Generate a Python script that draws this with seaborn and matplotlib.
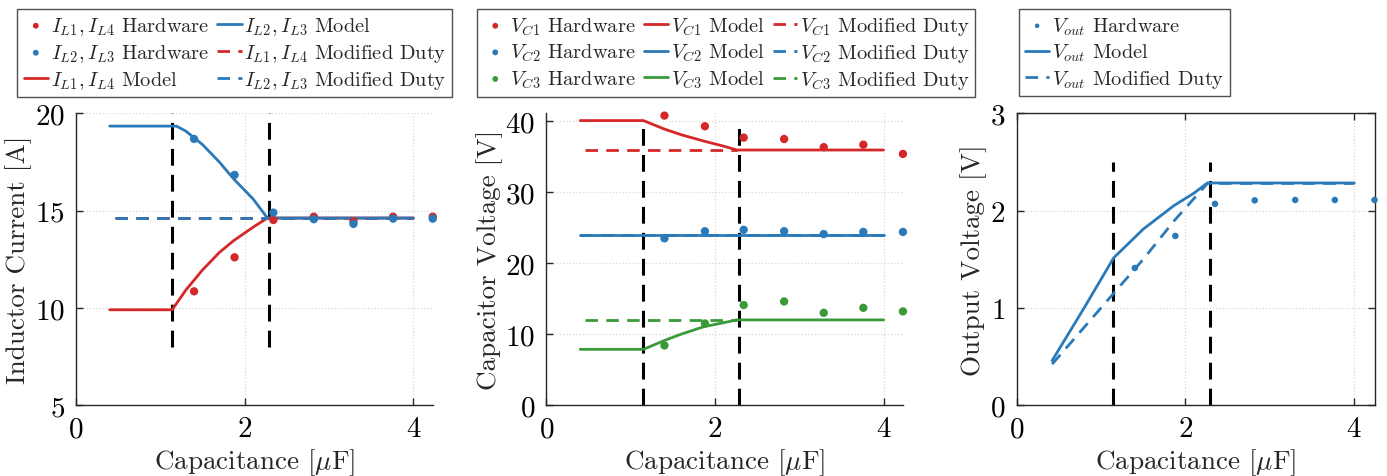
import numpy as np
import pandas as pd
import matplotlib
matplotlib.use('Agg')
import matplotlib.pyplot as plt
import seaborn as sns

# hardware measurement capacitances [uF]
cap_hw = [1.40, 1.88, 2.34, 2.82, 3.29, 3.76, 4.23]

# inductor currents
il14_hw = [10.85, 12.60, 14.52, 14.69, 14.45, 14.69, 14.69]
il23_hw = [18.69, 16.84, 14.90, 14.56, 14.32, 14.59, 14.59]
cap_model = [0.40, 1.14, 1.30, 1.50, 1.70, 1.87, 2.10, 2.27, 4.0]
il14_model = [9.90, 9.90, 10.90, 11.95, 12.85, 13.46, 14.15, 14.62, 14.62]
cap_model23 = [0.40, 1.19, 1.30, 1.50, 1.70, 1.87, 2.10, 2.27, 4.0]
il23_model = [19.35, 19.35, 19.10, 18.40, 17.50, 16.63, 15.60, 14.62, 14.62]
cap_duty = [0.46, 4.0]
il14_duty = [14.62, 14.62]
il23_duty = [14.62, 14.62]

# capacitor voltages
vc1_hw = [40.8, 39.3, 37.7, 37.5, 36.35, 36.7, 35.4]
vc2_hw = [23.5, 24.5, 24.7, 24.5, 24.1, 24.4, 24.4]
vc3_hw = [8.4, 11.5, 14.1, 14.6, 13.0, 13.7, 13.2]
cap_vmodel = [0.40, 1.15, 1.40, 1.60, 1.87, 2.10, 2.26, 4.0]
vc1_model = [40.1, 40.1, 38.9, 38.1, 37.2, 36.5, 35.95, 35.95]
vc2_model = [24.0, 24.0, 24.0, 24.0, 24.0, 24.0, 24.0, 24.0]
vc3_model = [7.85, 7.85, 9.1, 10.0, 11.05, 11.6, 12.0, 12.0]
cap_vduty = [0.46, 2.26]
cap_vduty2 = [0.40, 4.0]
vc1_duty = [35.95, 35.95]
vc2_duty = [24.0, 24.0]
vc3_duty = [12.0, 12.0]

# output voltage
cap_out_hw = [1.40, 1.88, 2.35, 2.82, 3.30, 3.77, 4.24]
vout_hw = [1.41, 1.74, 2.07, 2.106, 2.11, 2.11, 2.11]
cap_out_model = [0.42, 0.80, 1.15, 1.50, 1.86, 2.10, 2.26, 4.0]
vout_model = [0.457, 1.00, 1.515, 1.81, 2.05, 2.18, 2.285, 2.285]
cap_out_duty = [0.42, 1.14, 1.50, 1.87, 2.26, 4.0]
vout_duty = [0.42, 1.14, 1.50, 1.90, 2.28, 2.28]

# operating region boundaries
boundary_x = [1.14, 2.29]

sns.set_theme(style='white')
plt.rcParams['font.family'] = ['cmr10', 'DejaVu Serif']
plt.rcParams['mathtext.fontset'] = 'cm'
plt.rcParams['axes.formatter.use_mathtext'] = True
plt.rcParams['axes.unicode_minus'] = False

RED = '#d62728'
BLUE = '#2a7ab9'
GREEN = '#3a9a3a'
SPINE = '#262626'

fig = plt.figure(figsize=(13.87, 4.77), dpi=100)
bottom, top = 0.1488, 0.760
ax1 = fig.add_axes([0.0548, bottom, 0.312 - 0.0548, top - bottom])
ax2 = fig.add_axes([0.394, bottom, 0.651 - 0.394, top - bottom])
ax3 = fig.add_axes([0.733, bottom, 0.991 - 0.733, top - bottom])


def hw(ax, x, y, c, label, s=36):
    sns.scatterplot(x=x, y=y, ax=ax, color=c, s=s, edgecolor='none', label=label,
                    clip_on=False, zorder=4)


def line(ax, x, y, c, label, ls='-'):
    sns.lineplot(x=x, y=y, ax=ax, color=c, lw=2.0, label=label,
                 sort=False, estimator=None, zorder=3)
    if ls != '-':
        ax.lines[-1].set_dashes([4.5, 3])


def vbounds(ax, y0, y1):
    for bx in boundary_x:
        ax.plot([bx, bx], [y0, y1], color='black', lw=2.2, dashes=[5.5, 3], zorder=2)


def style(ax, box=False):
    ax.grid(True, color='#d8d8d8', linestyle=':', linewidth=0.9)
    ax.set_axisbelow(True)
    for s in ax.spines.values():
        s.set_color(SPINE)
        s.set_linewidth(1.0)
    if not box:
        ax.spines['top'].set_visible(False)
        ax.spines['right'].set_visible(False)
    ax.tick_params(direction='in', length=5, width=1, colors=SPINE, labelsize=21,
                   labelcolor='black', top=box, right=box, left=True, bottom=True, pad=8)
    ax.set_xlabel(r'Capacitance [$\mu$F]', fontsize=19.5, labelpad=3)
    ax.set_xticks([0, 2, 4])


def legend(ax, handles_order, ncol, cx):
    h, l = ax.get_legend_handles_labels()
    h = [h[i] for i in handles_order]
    l = [l[i] for i in handles_order]
    lg = ax.legend(h, l, ncol=ncol, loc='upper center', bbox_to_anchor=(cx, 0.979),
                   bbox_transform=fig.transFigure, fontsize=14.7, frameon=True,
                   fancybox=False, edgecolor=SPINE, handlelength=1.2, handletextpad=0.12,
                   columnspacing=0.4, labelspacing=0.25, borderpad=0.3,
                   borderaxespad=0, markerscale=0.7)
    lg.get_frame().set_linewidth(1.0)


# panel 1
hw(ax1, cap_hw, il14_hw, RED, r'$I_{L1},I_{L4}$ Hardware')
hw(ax1, cap_hw, il23_hw, BLUE, r'$I_{L2},I_{L3}$ Hardware')
line(ax1, cap_model, il14_model, RED, r'$I_{L1},I_{L4}$ Model')
line(ax1, cap_model23, il23_model, BLUE, r'$I_{L2},I_{L3}$ Model')
line(ax1, cap_duty, il14_duty, RED, r'$I_{L1},I_{L4}$ Modified Duty', ls='--')
line(ax1, cap_duty, il23_duty, BLUE, r'$I_{L2},I_{L3}$ Modified Duty', ls='--')
vbounds(ax1, 8, 20)
ax1.set_xlim(0, 4.23)
ax1.set_ylim(5, 20)
ax1.set_yticks([5, 10, 15, 20])
ax1.set_ylabel('Inductor Current [A]', fontsize=19.5, labelpad=2)
style(ax1)
legend(ax1, [0, 1, 2, 3, 4, 5], 2, 0.1694)

# panel 2
hw(ax2, cap_hw, vc1_hw, RED, r'$V_{C1}$ Hardware')
hw(ax2, cap_hw, vc2_hw, BLUE, r'$V_{C2}$ Hardware')
hw(ax2, cap_hw, vc3_hw, GREEN, r'$V_{C3}$ Hardware')
line(ax2, cap_vmodel, vc1_model, RED, r'$V_{C1}$ Model')
line(ax2, cap_vmodel, vc2_model, BLUE, r'$V_{C2}$ Model')
line(ax2, cap_vmodel, vc3_model, GREEN, r'$V_{C3}$ Model')
line(ax2, cap_vduty, vc1_duty, RED, r'$V_{C1}$ Modified Duty', ls='--')
line(ax2, cap_vduty2, vc2_duty, BLUE, r'$V_{C2}$ Modified Duty', ls='--')
line(ax2, cap_vduty, vc3_duty, GREEN, r'$V_{C3}$ Modified Duty', ls='--')
vbounds(ax2, 0, 40)
ax2.set_xlim(0, 4.23)
ax2.set_ylim(0, 41.1)
ax2.set_yticks([0, 10, 20, 30, 40])
ax2.set_ylabel('Capacitor Voltage [V]', fontsize=19.5, labelpad=2)
style(ax2)
legend(ax2, list(range(9)), 3, 0.5234)

# panel 3
hw(ax3, cap_out_hw, vout_hw, BLUE, r'$V_{out}$ Hardware', s=22)
line(ax3, cap_out_model, vout_model, BLUE, r'$V_{out}$ Model')
line(ax3, cap_out_duty, vout_duty, BLUE, r'$V_{out}$ Modified Duty', ls='--')
vbounds(ax3, 0, 2.5)
ax3.set_xlim(0, 4.24)
ax3.set_ylim(0, 3)
ax3.set_yticks([0, 1, 2, 3])
ax3.set_ylabel('Output Voltage [V]', fontsize=19.5, labelpad=2)
style(ax3, box=True)
legend(ax3, [0, 1, 2], 1, 0.8107)

fig.savefig('out.png', dpi=100)
